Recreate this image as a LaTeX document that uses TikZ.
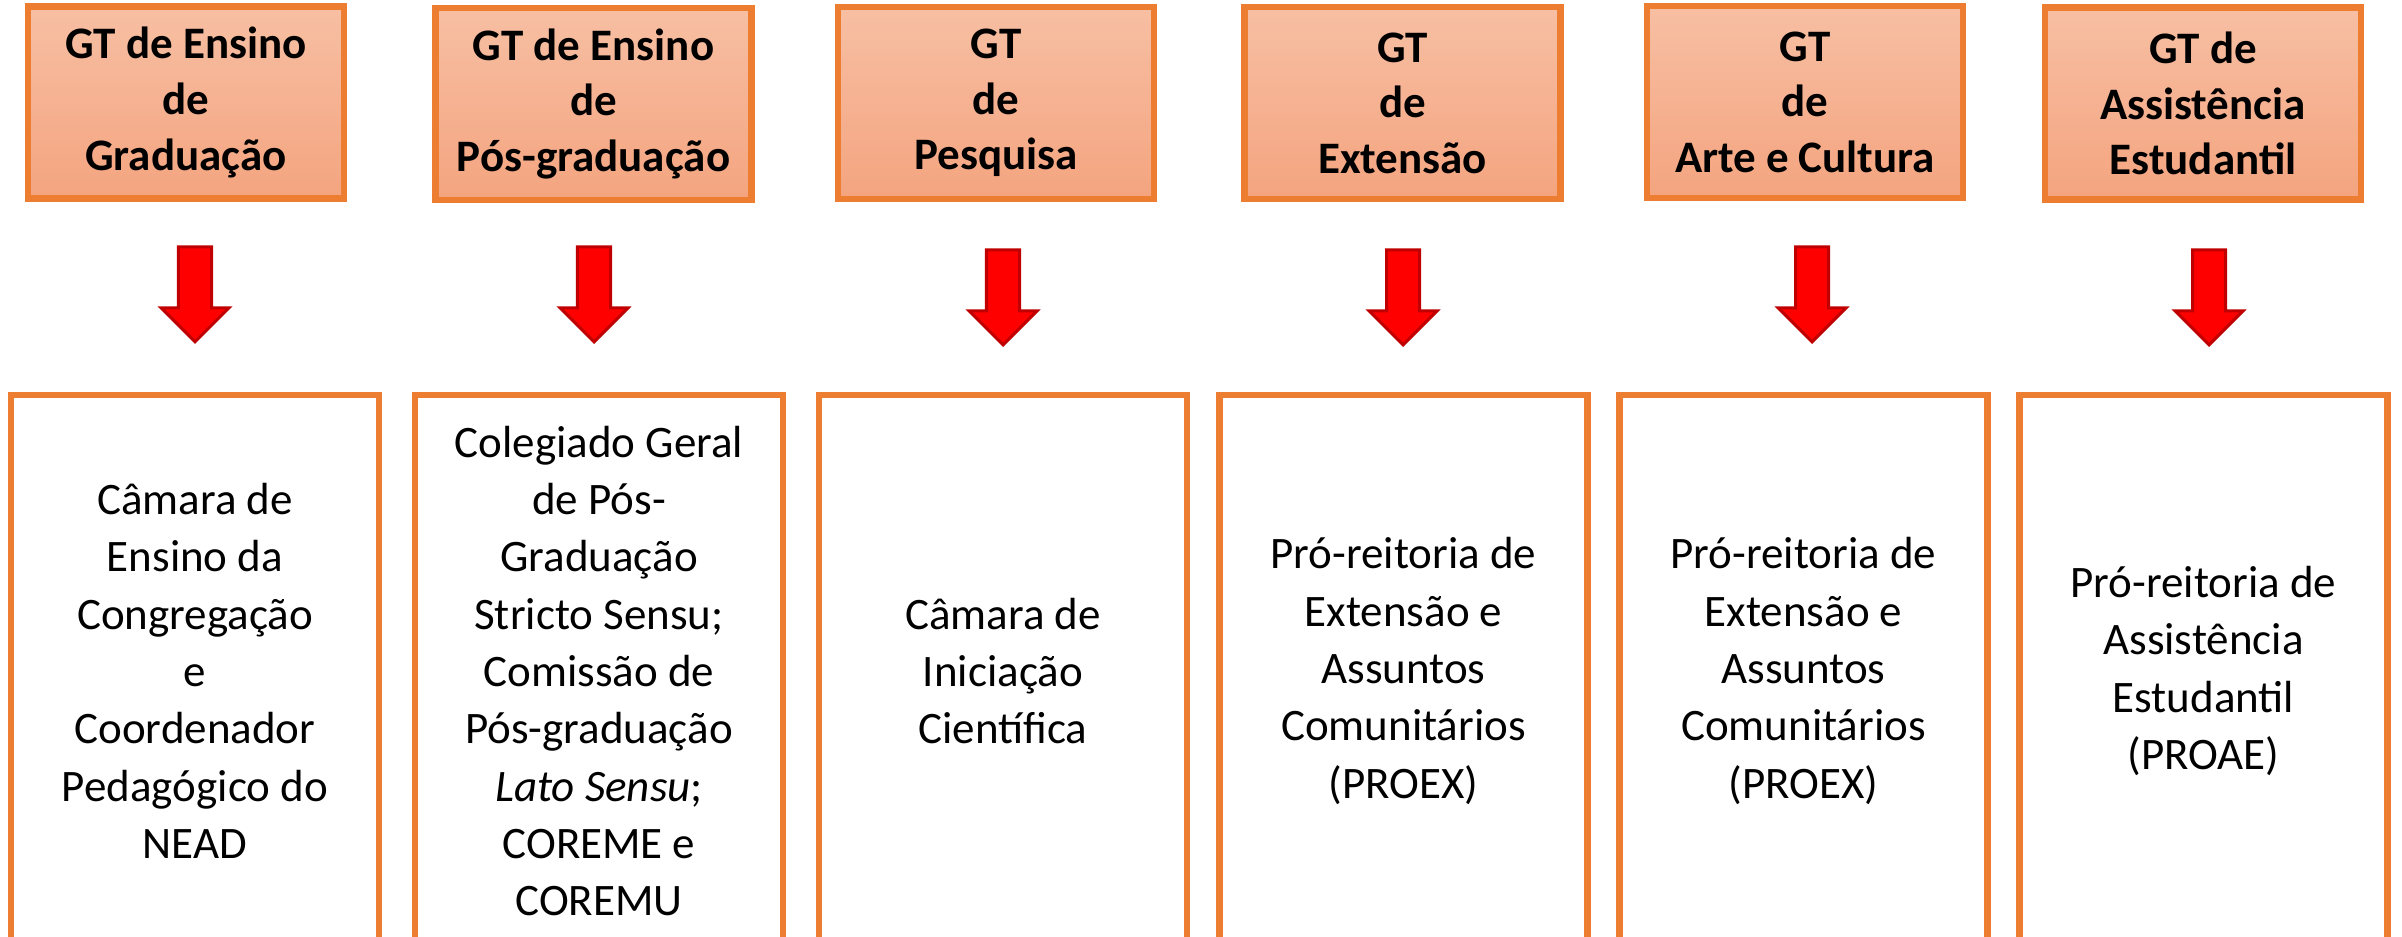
\documentclass[tikz,border=0pt]{standalone}
\usepackage{fontspec}
\setmainfont{Carlito}
\usetikzlibrary{shapes.arrows}
\definecolor{laranja}{HTML}{ED7D31}
\definecolor{salmaoTopo}{HTML}{F7BFA3}
\definecolor{salmaoBase}{HTML}{F4A47F}
\definecolor{vermelhoEsc}{HTML}{C00000}
\tikzstyle{gt} = [rectangle, draw=laranja, line width=0.065cm, top color=salmaoTopo, bottom color=salmaoBase, minimum width=3.16cm, minimum height=1.92cm, inner sep=0pt, align=center, font=\fontsize{12.8}{15.8}\selectfont\bfseries]
\tikzstyle{orgao} = [rectangle, draw=laranja, line width=0.065cm, fill=white, minimum width=3.68cm, minimum height=5.52cm, inner sep=0pt, align=center, font=\fontsize{12.8}{16.3}\selectfont]
\tikzstyle{seta} = [single arrow, draw=vermelhoEsc, fill=red, line width=0.03cm, shape border rotate=270, minimum height=0.95cm, minimum width=0.65cm, single arrow head extend=0.175cm, single arrow head indent=0pt, inner sep=0.15cm, anchor=tip]

\begin{document}
\begin{tikzpicture}[x=0.01cm, y=-0.01cm]
    \useasboundingbox (0,0) rectangle (2402,937);
    \clip (0,0) rectangle (2402,937);

    % GTs
    \node [gt] (gt1) at (186,102.5) {GT de Ensino\\de\\Graduação};
    \node [gt] (gt2) at (593.5,104) {GT de Ensino\\de\\Pós-graduação};
    \node [gt] (gt3) at (996,103) {GT\\de\\Pesquisa};
    \node [gt] (gt4) at (1402.5,103) {GT\\de\\Extensão};
    \node [gt] (gt5) at (1805,102) {GT\\de\\Arte e Cultura};
    \node [gt] (gt6) at (2203,103.5) {GT de\\Assistência\\Estudantil};

    % setas
    \node [seta] (seta1) at (195,344) {};
    \node [seta] (seta2) at (594,344) {};
    \node [seta] (seta3) at (1003,347) {};
    \node [seta] (seta4) at (1403,347) {};
    \node [seta] (seta5) at (1812,344) {};
    \node [seta] (seta6) at (2209,347) {};

    % instancias
    \node [orgao] (org1) at (195,671) {Câmara de\\Ensino da\\Congregação\\e\\Coordenador\\Pedagógico do\\NEAD};
    \node [orgao] (org2) at (599,671) {Colegiado Geral\\de Pós-\\Graduação\\Stricto Sensu;\\Comissão de\\Pós-graduação\\\textit{Lato Sensu};\\COREME e\\COREMU};
    \node [orgao] (org3) at (1003,671) {Câmara de\\Iniciação\\Científica};
    \node [orgao] (org4) at (1403.5,671) {Pró-reitoria de\\Extensão e\\Assuntos\\Comunitários\\(PROEX)};
    \node [orgao] (org5) at (1803.5,671) {Pró-reitoria de\\Extensão e\\Assuntos\\Comunitários\\(PROEX)};
    \node [orgao] (org6) at (2203.5,671) {Pró-reitoria de\\Assistência\\Estudantil\\(PROAE)};
\end{tikzpicture}
\end{document}
